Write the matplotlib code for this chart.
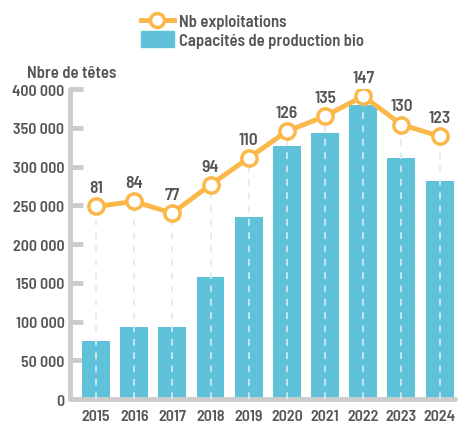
import matplotlib
matplotlib.use('Agg')
import matplotlib.pyplot as plt
from matplotlib.lines import Line2D
from matplotlib.patches import Patch
from matplotlib.ticker import FuncFormatter

plt.rcParams['font.family'] = ['Barlow Semi Condensed', 'DejaVu Sans']

# données
annees = ['2015', '2016', '2017', '2018', '2019', '2020', '2021', '2022', '2023', '2024']
capacites = [75500, 93500, 92500, 157500, 234500, 327000, 343500, 379000, 311500, 282000]
nb_exploitations = [81, 84, 77, 94, 110, 126, 135, 147, 130, 123]

bleu = '#5fc2d9'
orange = '#fbb848'
gris_txt = '#555555'
gris_axe = '#cccccc'
poids = 600

fig = plt.figure(figsize=(4.59, 4.27), dpi=100)
ax = fig.add_axes([0.1525, 0.063, 0.8385, 0.726])
x = list(range(len(annees)))

ax.bar(x, capacites, width=0.73, color=bleu, zorder=2)
ax.set_xlim(-0.68, 9.4)
ax.set_ylim(0, 400000)
ax.set_xticks(x)
ax.set_xticklabels(annees)
ax.set_yticks(range(0, 400001, 50000))
ax.yaxis.set_major_formatter(FuncFormatter(lambda v, p: f'{int(v):,}'.replace(',', ' ')))

for s in ['top', 'right']:
    ax.spines[s].set_visible(False)
for s in ['left', 'bottom']:
    ax.spines[s].set_color(gris_axe)
    ax.spines[s].set_linewidth(3.5)
    ax.spines[s].set_capstyle('round')
ax.tick_params(axis='y', direction='in', length=9, width=3.5, color=gris_axe,
               labelsize=11.5, labelcolor=gris_txt, pad=4)
ax.tick_params(axis='x', length=0, labelsize=11.5, labelcolor=gris_txt, pad=7)
for lab in ax.get_xticklabels() + ax.get_yticklabels():
    lab.set_fontweight(poids)

fig.text(0.059, 0.829, 'Nbre de têtes', fontsize=12, fontweight=poids,
         color=gris_txt, ha='left', va='center')

# courbe nombre d'exploitations
ax2 = ax.twinx()
ax2.set_ylim(-34.2, 151.2)
ax2.axis('off')
ax2.vlines(x, -34.2, nb_exploitations, colors='#d6edf4', linestyles=(0, (4, 4)),
           linewidth=1.2, zorder=1)
ax2.plot(x, nb_exploitations, color=orange, linewidth=3.5, marker='o',
         markersize=11, markerfacecolor='white', markeredgecolor=orange,
         markeredgewidth=2.5, zorder=3)
for xi, v in zip(x, nb_exploitations):
    ax2.annotate(str(v), (xi, v), xytext=(0, 8), textcoords='offset points',
                 ha='center', va='bottom', fontsize=12.5, fontweight=poids,
                 color=gris_txt)

handles = [Line2D([], [], color=orange, linewidth=3.5, marker='o', markersize=10,
                  markerfacecolor='white', markeredgewidth=2.5),
           Patch(color=bleu)]
leg = fig.legend(handles, ['Nb exploitations', 'Capacités de production bio'],
                 loc='upper left', bbox_to_anchor=(0.275, 1.003), frameon=False,
                 handlelength=1.95, handleheight=1.1, labelspacing=0.1,
                 handletextpad=0.3, fontsize=12)
for t in leg.get_texts():
    t.set_color(gris_txt)
    t.set_fontweight(poids)

fig.savefig('out.png', dpi=100)
